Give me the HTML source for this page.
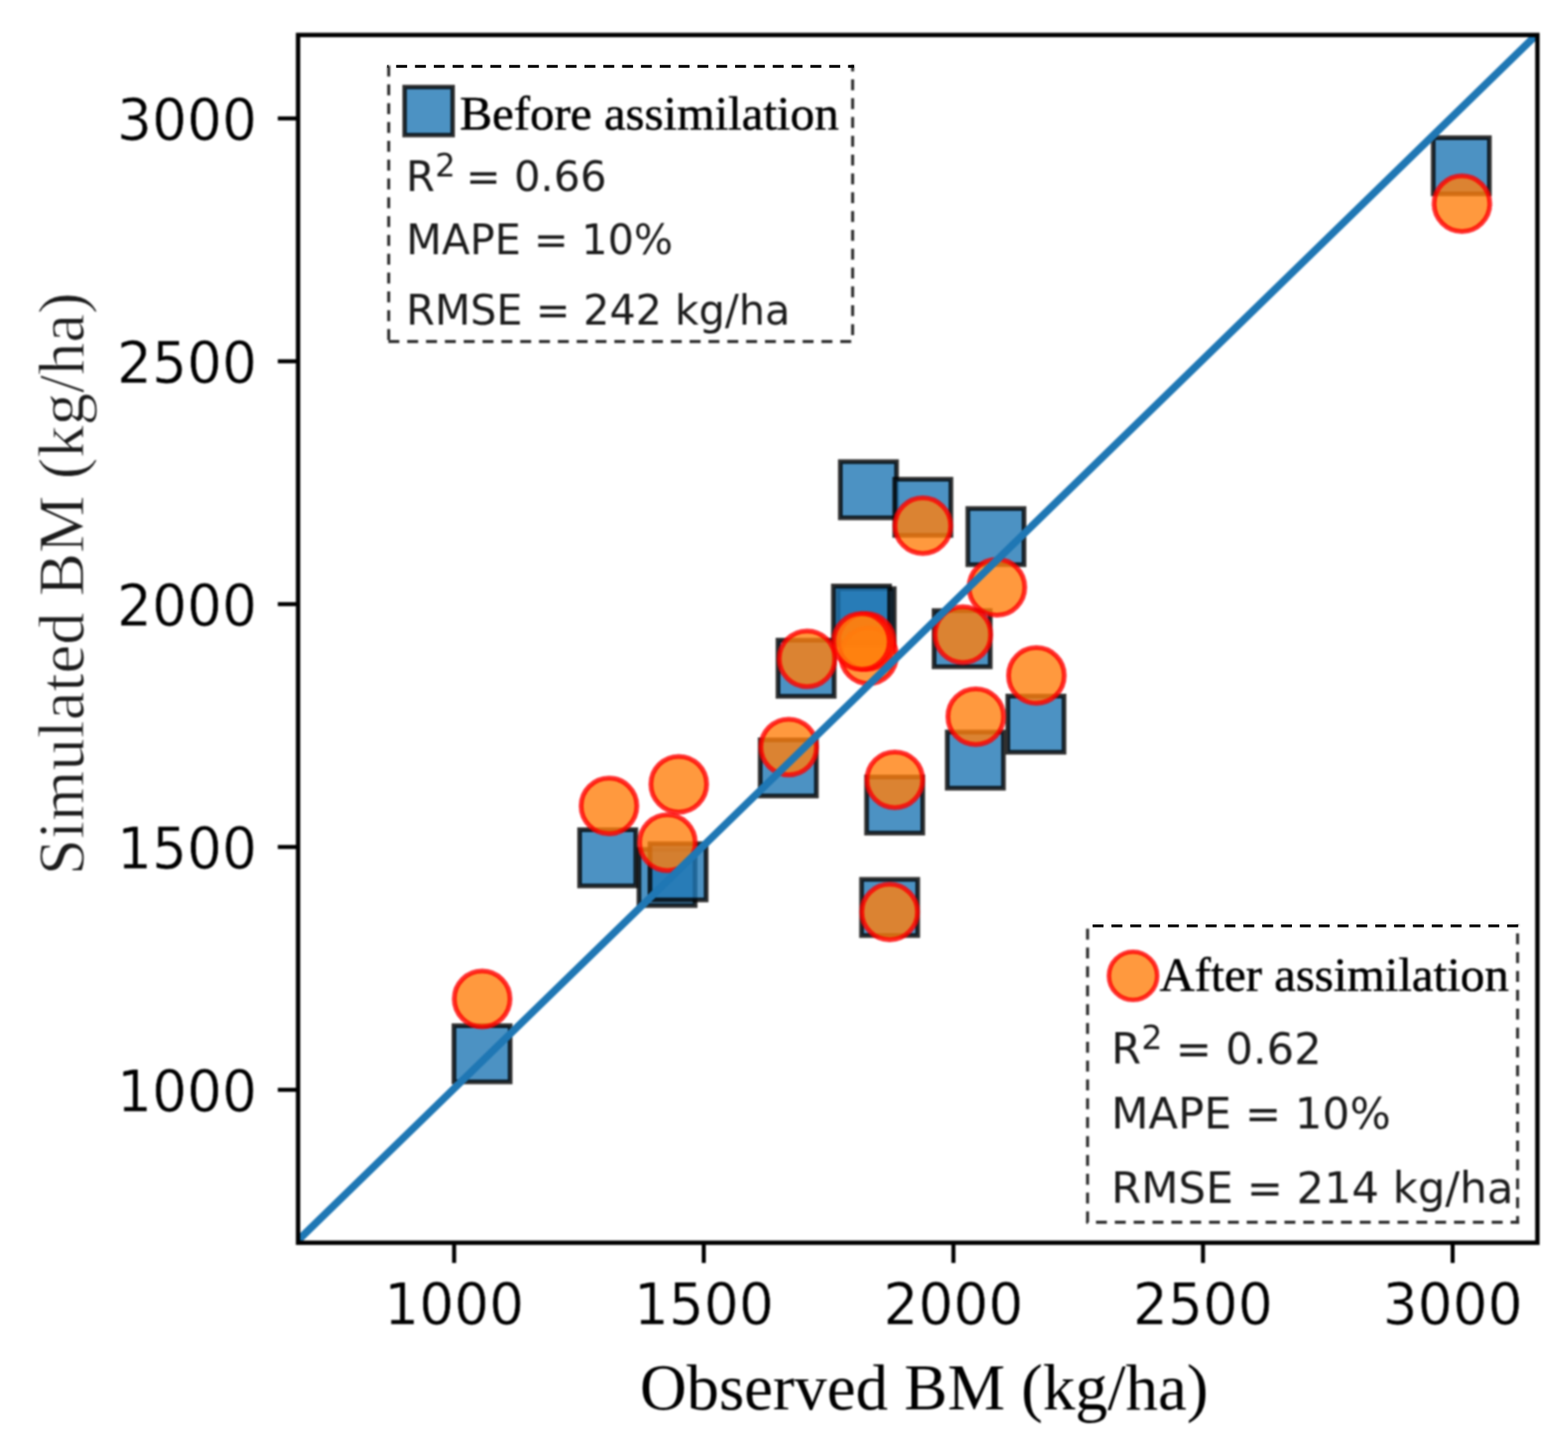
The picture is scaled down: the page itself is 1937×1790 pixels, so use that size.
<!DOCTYPE html>
<html lang="en"><head><meta charset="utf-8"><title>Simulated vs observed BM</title>
<style>
html,body{margin:0;padding:0;background:#fff;}
body{width:1937px;height:1790px;overflow:hidden;}
svg{display:block;}
.tk{font-family:"DejaVu Sans","Liberation Sans",sans-serif;font-size:72px;fill:#000;stroke:#fff;stroke-width:0.7px;}
.st{font-family:"DejaVu Sans","Liberation Sans",sans-serif;fill:#1c1c1c;}
.lb{font-family:"Liberation Serif","DejaVu Serif",serif;fill:#000;}
.lg{stroke:#000;stroke-width:0.6px;}
.yl{fill:#1c1c1c;stroke:#fff;stroke-width:1.0px;}
</style></head><body>
<svg width="1937" height="1790" viewBox="0 0 1937 1790" role="img" aria-label="Simulated versus observed biomass scatter plot">
<defs><clipPath id="ax"><rect x="368.2" y="43.2" width="1531.0" height="1492.0"/></clipPath></defs>
<defs><filter id="soft" x="-2%" y="-2%" width="104%" height="104%" color-interpolation-filters="sRGB"><feGaussianBlur stdDeviation="1.2"/></filter></defs>
<rect x="-10" y="-10" width="1957" height="1810" fill="#ffffff"/>
<g filter="url(#soft)">
<rect x="-10" y="-10" width="1957" height="1810" fill="#ffffff"/>
<g fill="#1f77b4" fill-opacity="0.8" stroke="#000" stroke-opacity="0.8" stroke-width="5.80">
<rect x="560.8" y="1267.1" width="69.4" height="69.4"/>
<rect x="716.0" y="1025.0" width="69.4" height="69.4"/>
<rect x="789.3" y="1049.3" width="69.4" height="69.4"/>
<rect x="802.9" y="1042.3" width="69.4" height="69.4"/>
<rect x="939.1" y="913.9" width="69.4" height="69.4"/>
<rect x="961.1" y="790.8" width="69.4" height="69.4"/>
<rect x="1035.3" y="727.2" width="69.4" height="69.4"/>
<rect x="1029.5" y="723.9" width="69.4" height="69.4"/>
<rect x="1038.1" y="570.3" width="69.4" height="69.4"/>
<rect x="1105.3" y="592.0" width="69.4" height="69.4"/>
<rect x="1195.6" y="628.2" width="69.4" height="69.4"/>
<rect x="1153.9" y="754.3" width="69.4" height="69.4"/>
<rect x="1245.0" y="859.9" width="69.4" height="69.4"/>
<rect x="1170.2" y="904.3" width="69.4" height="69.4"/>
<rect x="1070.5" y="959.8" width="69.4" height="69.4"/>
<rect x="1064.3" y="1086.3" width="69.4" height="69.4"/>
<rect x="1770.5" y="170.1" width="69.4" height="69.4"/>
</g>
<g fill="#ff7f0e" fill-opacity="0.8" stroke="#ff0000" stroke-opacity="0.8" stroke-width="6.00">
<circle cx="595.6" cy="1234.0" r="34.40"/>
<circle cx="752.3" cy="995.6" r="34.40"/>
<circle cx="838.5" cy="968.8" r="34.40"/>
<circle cx="824.5" cy="1041.0" r="34.40"/>
<circle cx="974.3" cy="922.8" r="34.40"/>
<circle cx="997.0" cy="813.8" r="34.40"/>
<circle cx="1073.0" cy="810.0" r="34.40"/>
<circle cx="1070.0" cy="792.5" r="34.40"/>
<circle cx="1064.2" cy="792.5" r="34.40"/>
<circle cx="1140.0" cy="649.4" r="34.40"/>
<circle cx="1231.5" cy="725.5" r="34.40"/>
<circle cx="1189.5" cy="784.0" r="34.40"/>
<circle cx="1280.3" cy="834.4" r="34.40"/>
<circle cx="1205.4" cy="885.3" r="34.40"/>
<circle cx="1105.4" cy="963.3" r="34.40"/>
<circle cx="1099.0" cy="1126.6" r="34.40"/>
<circle cx="1806.0" cy="251.6" r="34.40"/>
</g>
<g clip-path="url(#ax)"><line x1="300.0" y1="1598.7" x2="1950.0" y2="-7.6" stroke="#1f77b4" stroke-width="9.2"/></g>
<g fill="none" stroke="#2b2b2b" stroke-dasharray="13.50 9.76">
<line x1="480.20" y1="80.30" x2="480.20" y2="423.50" stroke-width="3.7" stroke-dashoffset="22.66"/>
<line x1="478.50" y1="421.80" x2="1055.00" y2="421.80" stroke-width="3.7" stroke-dashoffset="21.96"/>
<line x1="1053.30" y1="80.30" x2="1053.30" y2="423.50" stroke-width="3.7" stroke-dashoffset="5.56"/>
</g>
<g fill="none" stroke="#2b2b2b" stroke-dasharray="13.50 9.78">
<line x1="1343.50" y1="1142.10" x2="1343.50" y2="1511.50" stroke-width="3.7" stroke-dashoffset="18.08"/>
<line x1="1341.80" y1="1509.80" x2="1876.40" y2="1509.80" stroke-width="3.7" stroke-dashoffset="11.18"/>
<line x1="1874.70" y1="1142.10" x2="1874.70" y2="1511.50" stroke-width="3.7" stroke-dashoffset="12.38"/>
</g>
<rect x="499.8" y="107.5" width="59.4" height="59.4" fill="#1f77b4" fill-opacity="0.8" stroke="#000" stroke-opacity="0.8" stroke-width="5.5"/>
<text class="lb lg" x="568" y="159.5" font-size="60">Before assimilation</text>
<text class="st" font-size="51.4"><tspan x="501.4" y="235.5">R</tspan><tspan x="537.4" y="218.0" font-size="39.5">2</tspan><tspan x="559.2" y="235.5"> = 0.66</tspan></text>
<text class="st" x="501.8" y="314.2" font-size="50.9">MAPE = 10%</text>
<text class="st" x="501.8" y="401.3" font-size="50.9">RMSE = 242 kg/ha</text>
<circle cx="1399.7" cy="1205.5" r="29.8" fill="#ff7f0e" fill-opacity="0.8" stroke="#ff0000" stroke-opacity="0.8" stroke-width="5.6"/>
<text class="lb lg" x="1432.5" y="1224.2" font-size="60">After assimilation</text>
<text class="st" font-size="53.3"><tspan x="1372.8" y="1313.8">R</tspan><tspan x="1410.0" y="1295.6" font-size="41">2</tspan><tspan x="1435.4" y="1313.8"> = 0.62</tspan></text>
<text class="st" x="1372.8" y="1394.0" font-size="53.3">MAPE = 10%</text>
<text class="st" x="1372.8" y="1486.0" font-size="53.3">RMSE = 214 kg/ha</text>
<rect x="368.2" y="43.2" width="1531.0" height="1492.0" fill="none" stroke="#000" stroke-width="5.40"/>
<g stroke="#000" stroke-width="5.00">
<line x1="561.0" y1="1535.2" x2="561.0" y2="1560.2"/>
<line x1="343.2" y1="1346.3" x2="368.2" y2="1346.3"/>
<line x1="869.4" y1="1535.2" x2="869.4" y2="1560.2"/>
<line x1="343.2" y1="1046.3" x2="368.2" y2="1046.3"/>
<line x1="1177.8" y1="1535.2" x2="1177.8" y2="1560.2"/>
<line x1="343.2" y1="746.3" x2="368.2" y2="746.3"/>
<line x1="1486.1" y1="1535.2" x2="1486.1" y2="1560.2"/>
<line x1="343.2" y1="446.3" x2="368.2" y2="446.3"/>
<line x1="1794.5" y1="1535.2" x2="1794.5" y2="1560.2"/>
<line x1="343.2" y1="146.3" x2="368.2" y2="146.3"/>
</g>
<text class="tk" x="561.0" y="1636.0" text-anchor="middle" textLength="173" lengthAdjust="spacingAndGlyphs">1000</text>
<text class="tk" x="869.4" y="1636.0" text-anchor="middle" textLength="173" lengthAdjust="spacingAndGlyphs">1500</text>
<text class="tk" x="1177.8" y="1636.0" text-anchor="middle" textLength="173" lengthAdjust="spacingAndGlyphs">2000</text>
<text class="tk" x="1486.1" y="1636.0" text-anchor="middle" textLength="173" lengthAdjust="spacingAndGlyphs">2500</text>
<text class="tk" x="1794.5" y="1636.0" text-anchor="middle" textLength="173" lengthAdjust="spacingAndGlyphs">3000</text>
<text class="tk" x="317.6" y="1372.5" text-anchor="end" textLength="173" lengthAdjust="spacingAndGlyphs">1000</text>
<text class="tk" x="317.6" y="1072.5" text-anchor="end" textLength="173" lengthAdjust="spacingAndGlyphs">1500</text>
<text class="tk" x="317.6" y="772.5" text-anchor="end" textLength="173" lengthAdjust="spacingAndGlyphs">2000</text>
<text class="tk" x="317.6" y="472.5" text-anchor="end" textLength="173" lengthAdjust="spacingAndGlyphs">2500</text>
<text class="tk" x="317.6" y="172.5" text-anchor="end" textLength="173" lengthAdjust="spacingAndGlyphs">3000</text>
<text class="lb" x="1141.5" y="1740.8" font-size="80" text-anchor="middle">Observed BM (kg/ha)</text>
<text class="lb yl" transform="translate(102.5 721.0) rotate(-90)" font-size="80" text-anchor="middle">Simulated BM (kg/ha)</text>
</g>
<line x1="478.50" y1="82.00" x2="1055.00" y2="82.00" fill="none" stroke="#000" stroke-width="3.6" stroke-dasharray="13.50 9.76" stroke-dashoffset="12.36"/>
<line x1="1341.80" y1="1143.80" x2="1876.40" y2="1143.80" fill="none" stroke="#000" stroke-width="3.6" stroke-dasharray="13.50 9.78" stroke-dashoffset="15.38"/>
</svg>
</body></html>
